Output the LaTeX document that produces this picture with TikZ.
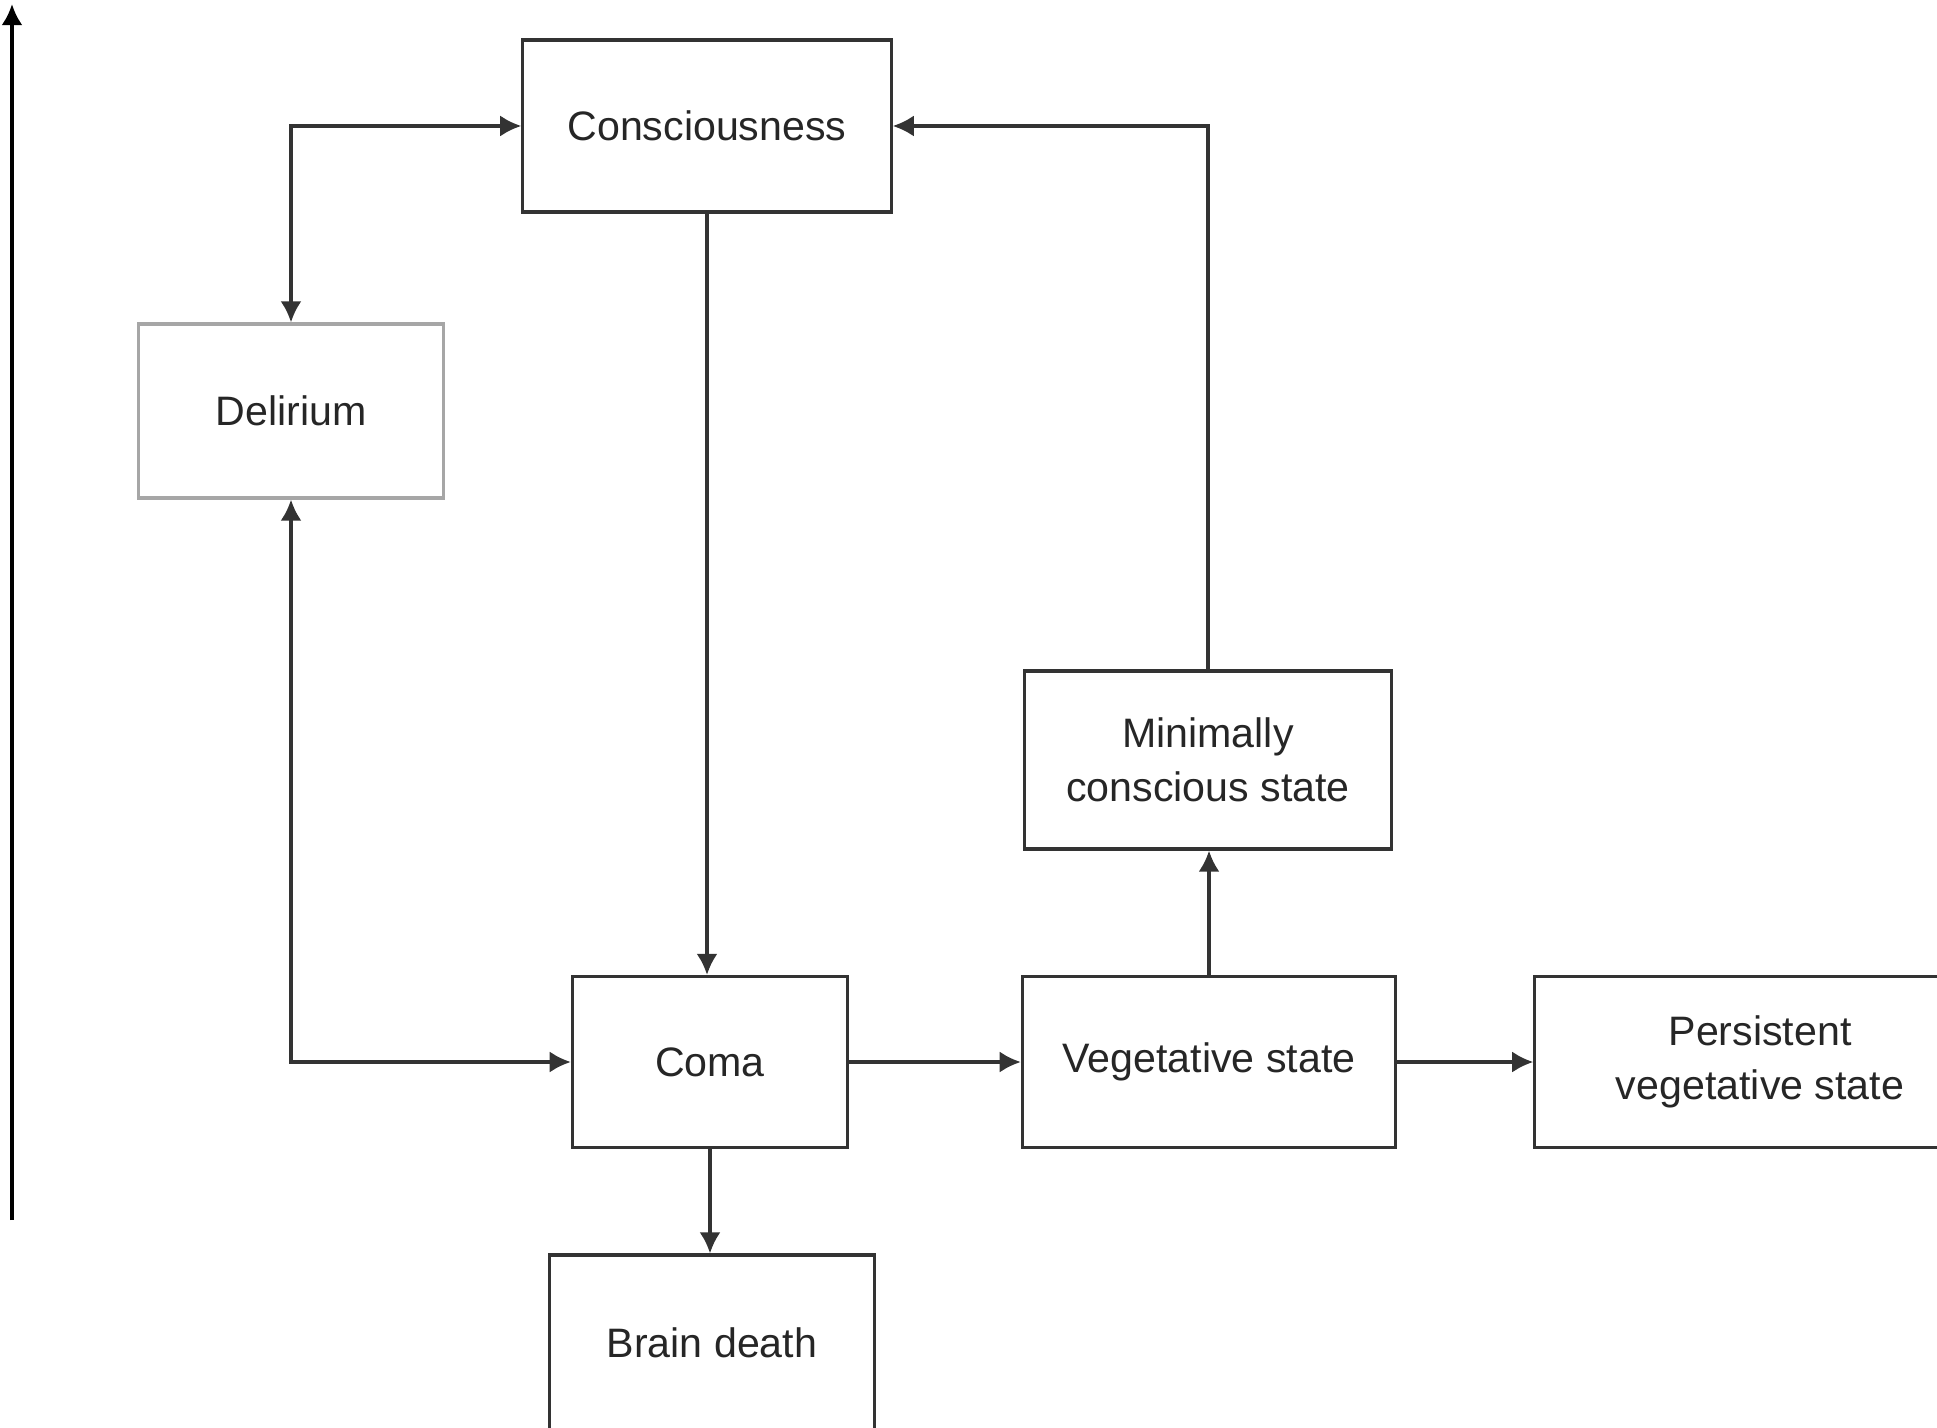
\documentclass[tikz,border=0pt]{standalone}
\usepackage{fontspec}
\setmainfont{Liberation Sans}
\usetikzlibrary{arrows.meta}

\begin{document}
\begin{tikzpicture}[
        x=0.01cm, y=-0.01cm,
        font=\fontsize{11.7}{15.5}\selectfont,
        state/.style={draw=black!80, line width=0.9pt, text=black!85, align=center, inner sep=0pt},
        link/.style={draw=black!80, line width=0.9pt, -{Latex[length=6pt,width=6pt]}},
        twoway/.style={link, {Latex[length=6pt,width=6pt]}-{Latex[length=6pt,width=6pt]}}
    ]
    \useasboundingbox (0,0) rectangle (1937,1428);

    % States
    \node[state, minimum width=3.68cm, minimum height=1.72cm] (consc) at (707,126) {Consciousness};
    \node[state, draw=black!35, minimum width=3.05cm, minimum height=1.74cm] (delir) at (291,411) {Delirium};
    \node[state, minimum width=3.67cm, minimum height=1.78cm] (mcs) at (1208,760) {Minimally\\conscious state};
    \node[state, minimum width=2.75cm, minimum height=1.71cm] (coma) at (710,1062) {Coma};
    \node[state, minimum width=3.73cm, minimum height=1.71cm] (veg) at (1209,1062) {Vegetative state};
    \node[state, minimum width=4.50cm, minimum height=1.71cm] (pvs) at (1760,1062) {Persistent\\vegetative state};
    \node[state, minimum width=3.25cm, minimum height=1.76cm] (death) at (712,1343) {Brain death};

    % Axis
    \coordinate (axisbot) at (12,1220);
    \coordinate (axistop) at (12,4);
    \draw[link, line width=1.1pt, draw=black] (axisbot) -- (axistop);

    % Around consciousness
    \draw[twoway] (delir.north) |- (consc.west);
    \draw[link] (consc.south) -- (consc.south |- coma.north);
    \draw[link] (mcs.north) |- (consc.east);

    % Around coma
    \draw[twoway] (delir.south) |- (coma.west);
    \draw[link] (coma.east) -- (veg.west);
    \draw[link] (coma.south) -- (coma.south |- death.north);

    % Vegetative state
    \draw[link] (veg.east) -- (pvs.west);
    \draw[link] (veg.north) -- (veg.north |- mcs.south);
\end{tikzpicture}
\end{document}
